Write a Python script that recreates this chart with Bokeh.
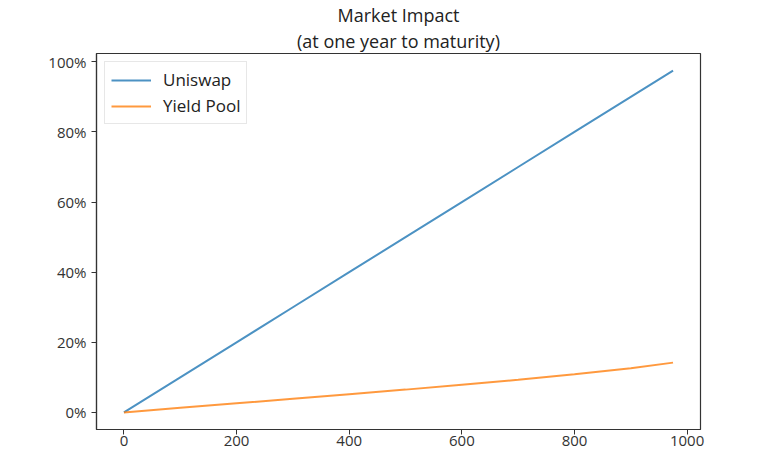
import numpy as np
from bokeh.plotting import figure
from bokeh.models import Range1d, FixedTicker, NumeralTickFormatter, Legend, LegendItem, Title
from bokeh.embed import file_html
from bokeh.resources import INLINE

# Data
trade_size = [0, 100, 200, 300, 400, 500, 600, 700, 800, 900, 975]
uniswap_pct = [0.0, 10.0, 20.0, 30.0, 40.0, 50.0, 60.0, 70.0, 80.0, 90.0, 97.5]
yield_pool_pct = [0.0, 1.3, 2.6, 3.9, 5.2, 6.5, 7.9, 9.3, 10.9, 12.6, 14.2]
x_ticks = [0, 200, 400, 600, 800, 1000]
y_ticks = [0.0, 0.2, 0.4, 0.6, 0.8, 1.0]
title_lines = ["Market Impact", "(at one year to maturity)"]
series_names = ["Uniswap", "Yield Pool"]

FONT = "Open Sans"
x = np.array(trade_size, dtype=float)
u = np.array(uniswap_pct) / 100.0
yp = np.array(yield_pool_pct) / 100.0

xmin, xmax = x.min(), x.max()
xpad = (xmax - xmin) * 0.05
ymin, ymax = min(u.min(), yp.min()), max(u.max(), yp.max())
ypad = (ymax - ymin) * 0.05

p = figure(width=767, height=448, output_backend="svg", toolbar_location=None,
           x_range=Range1d(xmin - xpad, xmax + xpad),
           y_range=Range1d(ymin - ypad, ymax + ypad),
           min_border_left=96, min_border_right=67, min_border_top=0, min_border_bottom=0)

# main title is p.title; subtitle added "above" sits between title and frame
p.title = Title(text=title_lines[0], align="center", text_font=FONT, text_font_size="18px",
                text_font_style="normal", text_color="#222222", standoff=0, text_line_height=1.0)
p.add_layout(Title(text=title_lines[1], align="center", text_font=FONT, text_font_size="18px",
                   text_font_style="normal", text_color="#222222", standoff=1,
                   text_line_height=1.0), "above")

l1 = p.line(x, u, line_color="#1f77b4", line_width=2, line_alpha=0.8)
l2 = p.line(x, yp, line_color="#ff7f0e", line_width=2, line_alpha=0.8)

legend = Legend(items=[LegendItem(label=series_names[0], renderers=[l1]),
                       LegendItem(label=series_names[1], renderers=[l2])],
                location="top_left", label_text_font=FONT, label_text_font_size="17px",
                label_text_color="#222222", border_line_color="#d0d0d0", border_line_width=1,
                glyph_width=40, glyph_height=16, label_standoff=12, spacing=3,
                padding=6, margin=8, background_fill_alpha=0.9)
p.add_layout(legend)

p.grid.visible = False
p.outline_line_color = "#333333"
p.outline_line_width = 1.2

p.xaxis.ticker = FixedTicker(ticks=x_ticks)
p.yaxis.ticker = FixedTicker(ticks=y_ticks)
p.yaxis.formatter = NumeralTickFormatter(format="0%")
for ax in (p.xaxis, p.yaxis):
    ax.axis_line_color = "#333333"
    ax.axis_line_width = 1.2
    ax.major_tick_line_color = "#333333"
    ax.major_tick_out = 5
    ax.major_tick_in = 0
    ax.minor_tick_line_color = None
    ax.major_label_text_font = FONT
    ax.major_label_text_font_size = "15px"
    ax.major_label_text_color = "#333333"
p.yaxis.major_label_standoff = 5
p.xaxis.major_label_standoff = 1

open("out.html", "w").write(file_html(p, INLINE))
